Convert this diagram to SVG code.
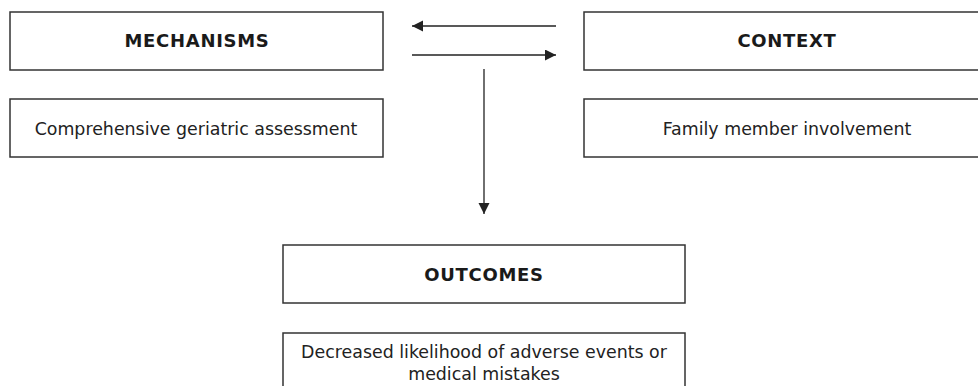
<svg xmlns="http://www.w3.org/2000/svg" width="978" height="386" viewBox="0 0 978 386">
  <style>
    .box { fill: #ffffff; stroke: #333333; stroke-width: 1.5; }
    .title { font-family: "DejaVu Sans", Verdana, sans-serif; font-weight: bold; font-size: 18px; letter-spacing: 0.7px; fill: #1a1a1a; text-anchor: middle; }
    .label { font-family: "DejaVu Sans", Verdana, sans-serif; font-size: 17.4px; fill: #222222; text-anchor: middle; }
    .conn { stroke: #222222; stroke-width: 1.3; fill: none; marker-end: url(#arrow); }
  </style>
  <defs>
    <marker id="arrow" markerUnits="userSpaceOnUse" markerWidth="12" markerHeight="12" refX="11" refY="5.5" orient="auto">
      <path d="M0,0 L11,5.5 L0,11 Z" fill="#222222"/>
    </marker>
  </defs>
  <rect width="978" height="386" fill="#ffffff"/>

  <g id="mechanisms">
    <rect class="box" x="10" y="12" width="373" height="58"/>
    <text class="title" x="197" y="47">MECHANISMS</text>
  </g>
  <g id="mechanisms-detail">
    <rect class="box" x="10" y="99" width="373" height="58"/>
    <text class="label" x="196" y="135">Comprehensive geriatric assessment</text>
  </g>
  <g id="context">
    <rect class="box" x="584" y="12" width="410" height="58"/>
    <text class="title" x="787" y="47">CONTEXT</text>
  </g>
  <g id="context-detail">
    <rect class="box" x="584" y="99" width="410" height="58"/>
    <text class="label" x="787" y="135">Family member involvement</text>
  </g>
  <g id="outcomes">
    <rect class="box" x="283" y="245" width="402" height="58"/>
    <text class="title" x="484" y="281">OUTCOMES</text>
  </g>
  <g id="outcomes-detail">
    <rect class="box" x="283" y="333" width="402" height="70"/>
    <text class="label" x="484" y="358">Decreased likelihood of adverse events or</text>
    <text class="label" x="484" y="380">medical mistakes</text>
  </g>

  <g id="connectors">
    <line class="conn" x1="556" y1="26" x2="412" y2="26"/>
    <line class="conn" x1="412" y1="55" x2="556" y2="55"/>
    <line class="conn" x1="484" y1="69" x2="484" y2="214"/>
  </g>
</svg>
